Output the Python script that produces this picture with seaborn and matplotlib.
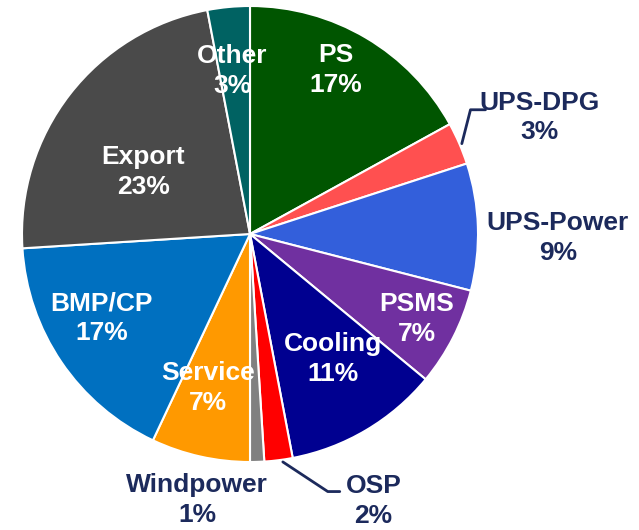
import numpy as np
import seaborn as sns
import matplotlib.pyplot as plt

labels = ["PS", "UPS-DPG", "UPS-Power", "PSMS", "Cooling", "OSP",
          "Windpower", "Service", "BMP/CP", "Export", "Other"]
shares = [17, 3, 9, 7, 11, 2, 1, 7, 17, 23, 3]
colors = ["#005500", "#ff5050", "#335fdb", "#7030a0", "#000090", "#ff0000",
          "#808080", "#ff9900", "#0070c0", "#4a4a4a", "#006262"]

# label placement: (distance in radii, angle shift in degrees, inside?)
place = {
    "PS": (0.81, 3, True),
    "UPS-DPG": (1.37, -1.5, False),
    "UPS-Power": (1.35, -2.5, False),
    "PSMS": (0.82, 0, True),
    "Cooling": (0.66, 3, True),
    "OSP": (1.29, 17.6, False),
    "Windpower": (1.19, -13, False),
    "Service": (0.70, -2.7, True),
    "BMP/CP": (0.75, -4.6, True),
    "Export": (0.54, 7.7, True),
    "Other": (0.72, 0.9, True),
}
# leader lines: (start radius, start shift, elbow radius, elbow shift, tail dx)
leaders = {
    "UPS-DPG": (1.01, -0.3, 1.11, 6, 15),
    "OSP": (1.01, 1, 1.18, 9.6, 12),
}

sns.set_style("white")
plt.rcParams["font.family"] = ["Liberation Sans", "DejaVu Sans"]

fig = plt.figure(figsize=(6.39, 5.30), dpi=100)
ax = fig.add_axes([0, 0, 1, 1])

cx, cy, R = 250, 296, 228
wedges, _ = ax.pie(shares, colors=colors, startangle=90, counterclock=False,
                   center=(cx, cy), radius=R, frame=True,
                   wedgeprops=dict(edgecolor="white", linewidth=1.5))
ax.set_xlim(0, 639)
ax.set_ylim(0, 530)
ax.set_aspect("equal")
ax.axis("off")

navy = "#1c2a5c"
for w, name, val in zip(wedges, labels, shares):
    mid = (w.theta1 + w.theta2) / 2
    d, shift, inside = place[name]
    a = np.deg2rad(mid + shift)
    x, y = cx + R * d * np.cos(a), cy + R * d * np.sin(a)
    ax.text(x, y, f"{name}\n{val}%", ha="center", va="center",
            fontsize=19, fontweight="bold", linespacing=1.3,
            color="white" if inside else navy)
    if name in leaders:
        r0, s0, r1, s1, tail = leaders[name]
        a0, a1 = np.deg2rad(mid + s0), np.deg2rad(mid + s1)
        x0, y0 = cx + R * r0 * np.cos(a0), cy + R * r0 * np.sin(a0)
        x1, y1 = cx + R * r1 * np.cos(a1), cy + R * r1 * np.sin(a1)
        ax.plot([x0, x1, x1 + tail], [y0, y1, y1], color=navy, lw=2)

fig.savefig("out.png", dpi=100)
